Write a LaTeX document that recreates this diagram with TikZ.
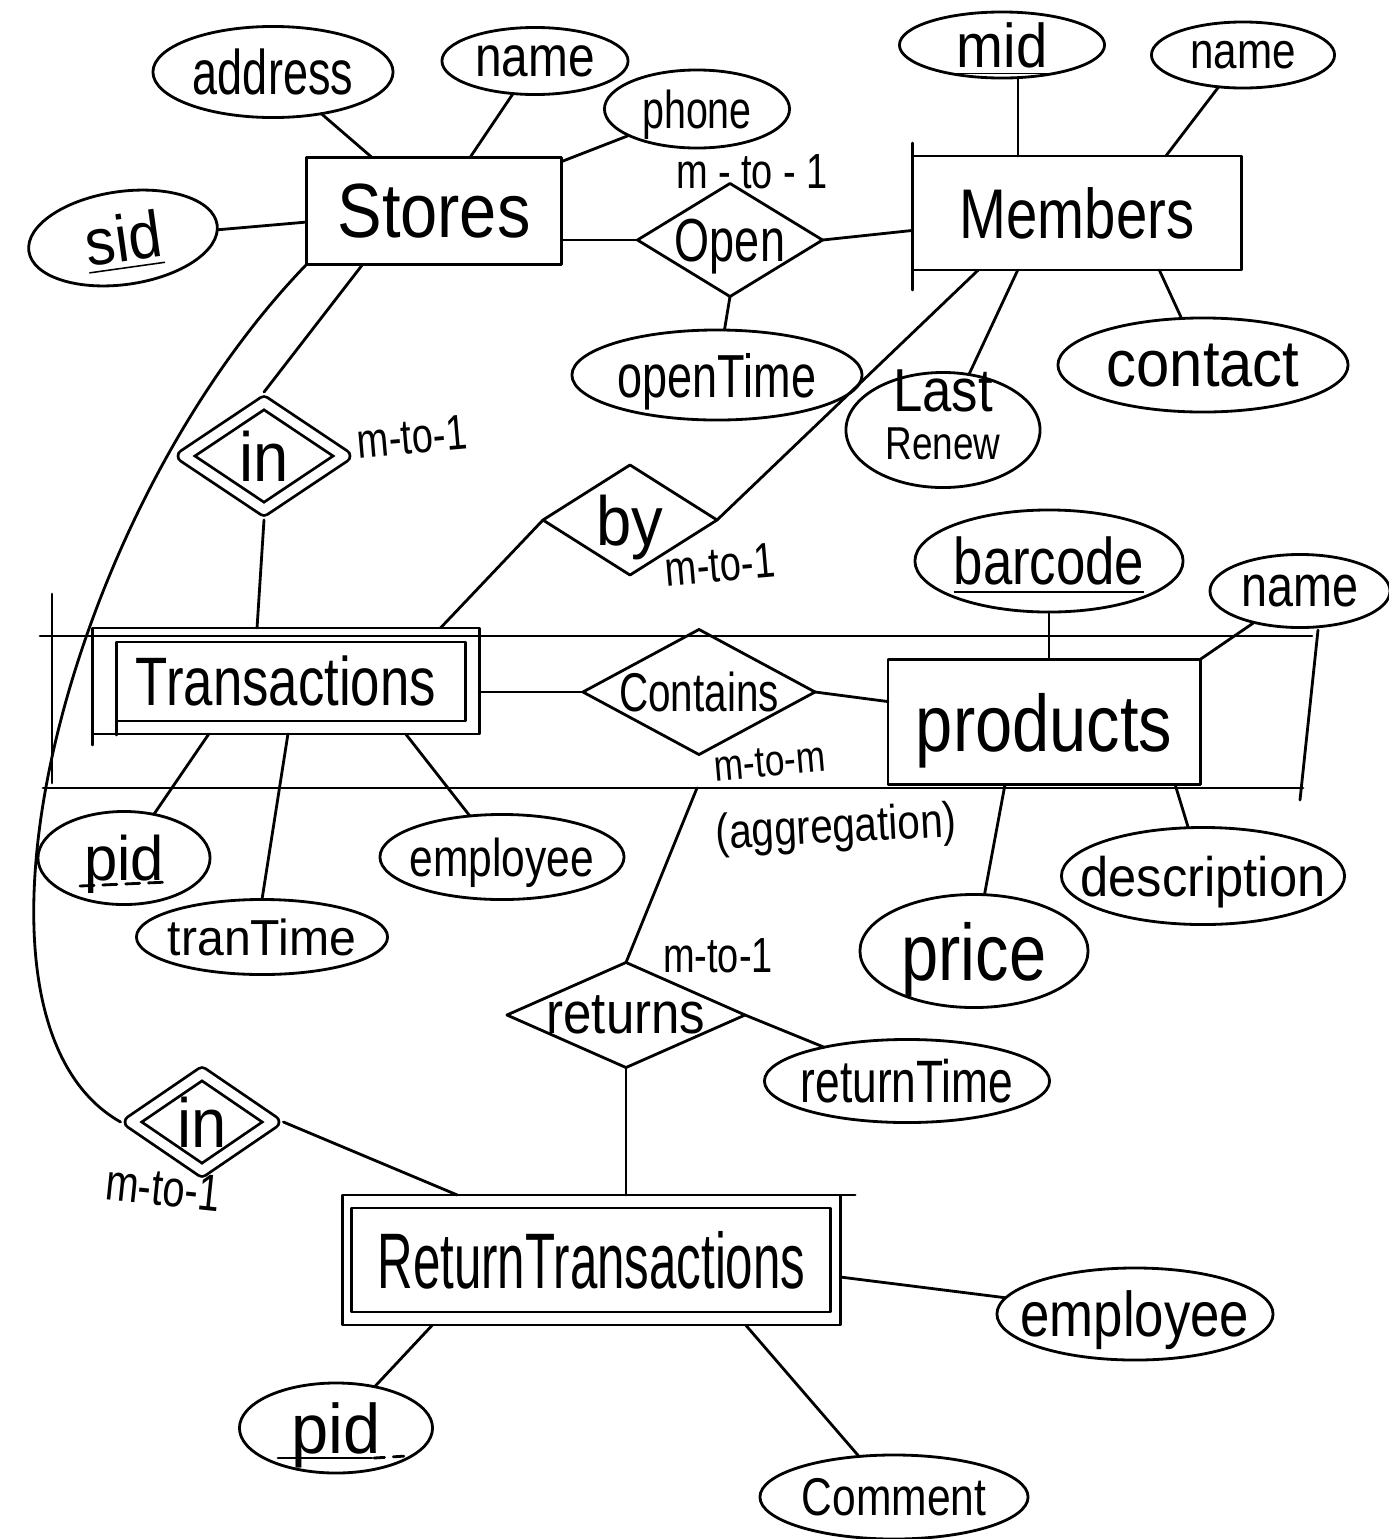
\documentclass[tikz,border=0pt]{standalone}
\usepackage{fontspec}
\setmainfont{Liberation Sans}
\usepackage{graphicx}
\usetikzlibrary{shapes.geometric,calc}

% text of zero size, centred on the node, set at a given size and vertical stretch
\newcommand{\handtext}[3]{\makebox[0pt]{\raisebox{-0.5\height}[0pt][0pt]{\fontsize{#1}{#1}\selectfont\scalebox{1}[#2]{#3}}}}

\begin{document}
\begin{tikzpicture}[x=0.01cm,y=-0.01cm,
  line width=0.8pt, line cap=round, line join=round,
  attr/.style={draw, ellipse, inner sep=0pt, outer sep=0pt},
  entity/.style={draw, rectangle, inner sep=0pt, outer sep=0pt},
  rel/.style={draw, diamond, inner sep=0pt, outer sep=0pt},
  weakrel/.style={rel, double, double distance=2.6pt, outer sep=2.1pt},
  card/.style={inner sep=0pt, rotate=5}]
\useasboundingbox (0,0) rectangle (1389,1539);

% ---------- entities ----------
\node[entity, minimum width=2.55cm, minimum height=1.07cm] (stores) at (434,211) {\handtext{19}{1.15}{Stores}};
\node[entity, minimum width=3.29cm, minimum height=1.14cm] (members) at (1077,213) {\handtext{16}{1.25}{Members}};
\node[entity, minimum width=3.12cm, minimum height=1.25cm] (products) at (1044,722) {\handtext{19}{1.2}{products}};
\node[entity, minimum width=3.86cm, minimum height=1.06cm] (trans) at (286,681) {\handtext{15}{1.3}{Transactions}};
\node[entity, minimum width=4.97cm, minimum height=1.30cm] (rettrans) at (591.5,1260) {\handtext{14}{1.6}{ReturnTransactions}};

% inner frames of the weak entities and stray pen strokes
\draw ([shift={(24,14)}]trans.north west) rectangle ([shift={(-14,-13)}]trans.south east);
\draw (trans.south west) -- ++(0,11);
\draw ([shift={(24,-13)}]trans.south west) -- ++(0,14);
\draw ([shift={(9,13)}]rettrans.north west) rectangle ([shift={(-10,-13)}]rettrans.south east);
\draw (rettrans.north east) -- ++(15,0);
\draw (members.north west) -- ++(0,-13);
\draw (members.south west) -- ++(0,20);

% ---------- attributes ----------
\node[attr, minimum width=2.40cm, minimum height=0.91cm] (address) at (273,72) {\handtext{12.8}{1.4}{address}};
\node[attr, minimum width=1.86cm, minimum height=0.67cm] (sname) at (535,61) {\handtext{13.6}{1.2}{name}};
\node[attr, minimum width=1.85cm, minimum height=0.78cm] (phone) at (697,109) {\handtext{11.2}{1.35}{phone}};
\node[attr, minimum width=1.90cm, minimum height=0.93cm, rotate=8] (sid) at (123,238) {\handtext{17}{1.1}{\underline{sid}}};
\node[attr, minimum width=2.05cm, minimum height=0.66cm] (mid) at (1002,45) {\handtext{16}{1.1}{\underline{mid}}};
\node[attr, minimum width=1.83cm, minimum height=0.66cm] (mname) at (1243,55) {\handtext{12}{1.2}{name}};
\node[attr, minimum width=2.90cm, minimum height=0.90cm] (opentime) at (717,375) {\handtext{12.8}{1.35}{openTime}};
\node[attr, minimum width=2.90cm, minimum height=0.94cm] (contact) at (1203,365) {\handtext{17}{1.1}{contact}};
\node[attr, minimum width=1.94cm, minimum height=1.15cm] (renew) at (943,430)
  {\makebox[0pt]{\raisebox{0pt}[0pt][0pt]{\begin{tabular}[c]{@{}c@{}}\fontsize{15}{15}\selectfont\scalebox{1}[1.15]{Last}\\[1pt]\fontsize{10.5}{10.5}\selectfont\scalebox{1}[1.25]{Renew}\end{tabular}}}};
\node[attr, minimum width=2.68cm, minimum height=1.02cm] (barcode) at (1049,561) {\handtext{15}{1.25}{\underline{barcode}}};
\node[attr, minimum width=1.80cm, minimum height=0.73cm] (pname) at (1300,591) {\handtext{13.3}{1.25}{name}};
\node[attr, minimum width=2.83cm, minimum height=0.97cm] (descr) at (1203,876) {\handtext{14.4}{1.1}{description}};
\node[attr, minimum width=2.28cm, minimum height=1.13cm] (price) at (974,951) {\handtext{19}{1.2}{price}};
\node[attr, minimum width=1.72cm, minimum height=0.93cm] (tpid) at (124,858) {\handtext{17}{1.05}{pid}};
\node[attr, minimum width=2.51cm, minimum height=0.75cm] (trantime) at (262,937) {\handtext{13.7}{1.05}{tranTime}};
\node[attr, minimum width=2.44cm, minimum height=0.85cm] (temp) at (502,857) {\handtext{12.1}{1.25}{employee}};
\node[attr, minimum width=2.85cm, minimum height=0.83cm] (rettime) at (907,1081) {\handtext{12.6}{1.35}{returnTime}};
\node[attr, minimum width=2.76cm, minimum height=0.92cm] (remp) at (1135,1314) {\handtext{15}{1.2}{employee}};
\node[attr, minimum width=1.93cm, minimum height=0.90cm] (rpid) at (336,1428) {\handtext{19}{1.05}{pid}};
\node[attr, minimum width=2.68cm, minimum height=0.84cm] (comment) at (894,1497) {\handtext{12.1}{1.25}{Comment}};

% partial-key underlines
\draw[dash pattern=on 4pt off 2.5pt] ([shift={(-44,28)}]tpid.center) -- ++(88,-4);
\draw ([shift={(-58,30)}]rpid.center) -- ++(94,0);
\draw[dash pattern=on 3pt off 2.5pt] ([shift={(38,30)}]rpid.center) -- ++(32,-2);

% ---------- relationships ----------
\node[rel, minimum width=1.85cm, minimum height=1.13cm] (open) at (730,240) {\handtext{12.8}{1.35}{Open}};
\node[weakrel, minimum width=1.66cm, minimum height=1.13cm] (instore) at (264,456) {\handtext{18}{1.1}{in}};
\node[rel, minimum width=1.74cm, minimum height=1.10cm] (by) at (630,520) {\handtext{18}{1.1}{by}};
\node[rel, minimum width=2.32cm, minimum height=1.25cm] (contains) at (699,692) {\handtext{11.5}{1.35}{Contains}};
\node[rel, minimum width=2.38cm, minimum height=1.05cm] (returns) at (626,1015) {\handtext{14.5}{1.15}{returns}};
\node[weakrel, minimum width=1.48cm, minimum height=1.03cm] (inret) at (202,1122) {\handtext{18}{1.1}{in}};

% ---------- cardinality notes ----------
\node[card, rotate=-5] (cOpen) at (752,172) {\handtext{10.8}{1.3}{m - to - 1}};
\node[card] (cIn) at (412,437) {\handtext{10.8}{1.3}{m-to-1}};
\node[card] (cBy) at (720,565) {\handtext{10.8}{1.3}{m-to-1}};
\node[card] (cContains) at (770,762) {\handtext{10}{1.25}{m-to-m}};
\node[card, rotate=-2] (agglabel) at (836,825) {\handtext{11.5}{1.2}{(aggregation)}};
\node[card, rotate=-5] (cReturns) at (718,955) {\handtext{10.8}{1.3}{m-to-1}};
\node[card, rotate=-11] (cInret) at (163,1188) {\handtext{11.3}{1.3}{m-to-1}};

% ---------- aggregation frame ----------
\coordinate (aggNW) at (40,636);
\coordinate (aggNE) at (1312,636);
\coordinate (aggSW) at (43,788);
\coordinate (aggSE) at (1303,788);
\coordinate (aggR) at (697,788);
\draw (aggNW) -- (aggNE);
\draw (aggSW) -- (aggSE);
\draw (52,594) -- (52,783);
\draw (1318,630) -- (1300,800);

% ---------- connectors ----------
\draw (address) -- (stores);
\draw (sname) -- (stores);
\draw (phone) -- (stores);
\draw (sid) -- (stores);
\draw (open.west) -- (open.west -| stores.east);
\draw (open.east) -- (members);
\draw (open.south) -- (opentime);
\draw ([xshift=0.16cm]mid.south) -- ([xshift=0.16cm]mid.south |- members.north);
\draw (mname) -- ($(members.north east)!0.23!(members.north west)$);
\draw ($(members.south west)!0.75!(members.south east)$) -- (contact);
\draw ($(members.south west)!0.32!(members.south east)$) -- (renew);
\draw ($(members.south west)!0.2!(members.south east)$) -- (by.east);
\draw ($(stores.south west)!0.22!(stores.south east)$) -- (instore.north);
\draw (instore.south) -- ($(trans.north west)!0.425!(trans.north east)$);
\draw (by.west) -- ($(trans.north west)!0.9!(trans.north east)$);
\draw (contains.west) -- (contains.west -| trans.east);
\draw (contains.east) -- (products);
\draw (barcode.south) -- (barcode.south |- products.north);
\draw (pname) -- (products.north east);
\draw ($(products.south west)!0.92!(products.south east)$) -- (descr);
\draw ($(products.south west)!0.375!(products.south east)$) -- (price);
\draw ($(trans.south west)!0.3!(trans.south east)$) -- (tpid);
\draw ($(trans.south west)!0.505!(trans.south east)$) -- (trantime.north);
\draw ($(trans.south west)!0.81!(trans.south east)$) -- (temp);
\draw (aggR) -- (returns.north);
\draw (returns.east) -- (rettime);
\draw (returns.south) -- (returns.south |- rettrans.north);
\draw (stores.south west) .. controls (60,520) and (-60,1020) .. (inret.west);
\draw (inret.east) -- ($(rettrans.north west)!0.23!(rettrans.north east)$);
\draw ([yshift=-0.17cm]rettrans.east) -- (remp);
\draw ($(rettrans.south west)!0.18!(rettrans.south east)$) -- (rpid);
\draw ($(rettrans.south west)!0.81!(rettrans.south east)$) -- (comment);
\end{tikzpicture}
\end{document}
